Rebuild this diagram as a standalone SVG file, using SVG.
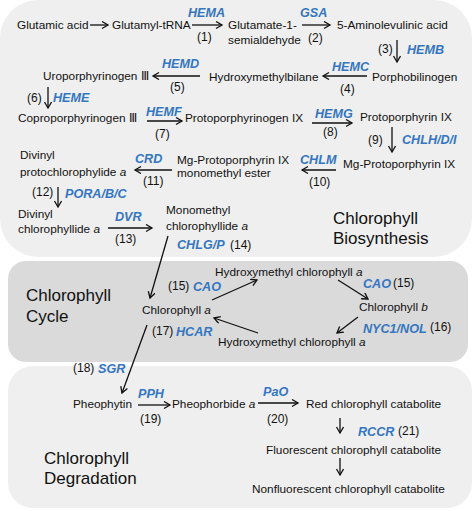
<svg xmlns="http://www.w3.org/2000/svg" width="473" height="511" viewBox="0 0 473 511">
<style>
.t{font-family:"Liberation Sans",Arial,sans-serif;font-size:11.8px;fill:#111}
.e{font-family:"Liberation Sans",Arial,sans-serif;font-size:12.6px;font-weight:bold;font-style:italic;fill:#3476c1}
.n{font-family:"Liberation Sans",Arial,sans-serif;font-size:12px;fill:#111}
.h{font-family:"Liberation Sans",Arial,sans-serif;font-size:17px;fill:#111}
.i{font-style:italic}
.a{stroke:#111;stroke-width:1.3;fill:none;marker-end:url(#ah)}
</style>
<defs>
<marker id="ah" markerUnits="userSpaceOnUse" markerWidth="10" markerHeight="10" refX="7" refY="4" orient="auto">
<path d="M1,0.5 L7,4 L1,7.5" fill="none" stroke="#111" stroke-width="1.3"/>
</marker>
</defs>
<rect width="473" height="511" fill="#ffffff"/>
<g id="panels">
<rect x="0" y="0" width="472" height="257" rx="38" fill="#efefef"/>
<rect x="8" y="366" width="464" height="142" rx="25" fill="#efefef"/>
<rect x="8" y="261" width="460" height="101" rx="18" fill="#dadada"/>
</g>
<g id="connectors">
<line class="a" x1="90" y1="25" x2="108" y2="25"/>
<line class="a" x1="192" y1="25" x2="222" y2="25"/>
<line class="a" x1="302" y1="25" x2="330" y2="25"/>
<line class="a" x1="397" y1="40" x2="397" y2="62"/>
<line class="a" x1="367" y1="76" x2="323" y2="76"/>
<line class="a" x1="200" y1="76" x2="153" y2="76"/>
<line class="a" x1="48" y1="87" x2="48" y2="108"/>
<line class="a" x1="147" y1="121" x2="182" y2="121"/>
<line class="a" x1="312" y1="123" x2="352" y2="123"/>
<line class="a" x1="392" y1="127" x2="392" y2="152"/>
<line class="a" x1="336" y1="170" x2="302" y2="170"/>
<line class="a" x1="172" y1="170" x2="135" y2="170"/>
<line class="a" x1="58" y1="187" x2="58" y2="207"/>
<line class="a" x1="108" y1="228" x2="152" y2="228"/>
<line class="a" x1="168" y1="236" x2="150" y2="298"/>
<line class="a" x1="212" y1="300" x2="257" y2="280"/>
<line class="a" x1="338" y1="280" x2="368" y2="299"/>
<line class="a" x1="358" y1="317" x2="337" y2="333"/>
<line class="a" x1="258" y1="333" x2="214" y2="318"/>
<line class="a" x1="147" y1="325" x2="122" y2="393"/>
<line class="a" x1="138" y1="405" x2="170" y2="405"/>
<line class="a" x1="258" y1="403" x2="298" y2="403"/>
<line class="a" x1="340" y1="418" x2="340" y2="433"/>
<line class="a" x1="340" y1="458" x2="340" y2="475"/>
</g>
<g id="n-glutamic"><text class="t" x="17" y="29">Glutamic acid</text></g>
<g id="n-glutamyl"><text class="t" x="112" y="29">Glutamyl-tRNA</text></g>
<g id="e-hema"><text class="e" x="188" y="17">HEMA</text><text class="n" x="197" y="41">(1)</text></g>
<g id="n-gsa-ald"><text class="t" x="228" y="29">Glutamate-1-</text><text class="t" x="228" y="44">semialdehyde</text></g>
<g id="e-gsa"><text class="e" x="300" y="17">GSA</text><text class="n" x="308" y="42">(2)</text></g>
<g id="n-ala"><text class="t" x="337" y="29">5-Aminolevulinic acid</text></g>
<g id="e-hemb"><text class="n" x="378" y="53">(3)</text><text class="e" x="407" y="54">HEMB</text></g>
<g id="n-pbg"><text class="t" x="372" y="81">Porphobilinogen</text></g>
<g id="e-hemc"><text class="e" x="332" y="71">HEMC</text><text class="n" x="340" y="93">(4)</text></g>
<g id="n-hmb"><text class="t" x="209" y="81">Hydroxymethylbilane</text></g>
<g id="e-hemd"><text class="e" x="162" y="68">HEMD</text><text class="n" x="170" y="91">(5)</text></g>
<g id="n-uro"><text class="t" x="43" y="80">Uroporphyrinogen Ⅲ</text></g>
<g id="e-heme"><text class="n" x="27" y="102">(6)</text><text class="e" x="53" y="102">HEME</text></g>
<g id="n-copro"><text class="t" x="18" y="122">Coproporphyrinogen Ⅲ</text></g>
<g id="e-hemf"><text class="e" x="146" y="116">HEMF</text><text class="n" x="155" y="138">(7)</text></g>
<g id="n-protogen"><text class="t" x="185" y="122">Protoporphyrinogen IX</text></g>
<g id="e-hemg"><text class="e" x="315" y="118">HEMG</text><text class="n" x="323" y="136">(8)</text></g>
<g id="n-proto"><text class="t" x="360" y="121">Protoporphyrin IX</text></g>
<g id="e-chlh"><text class="n" x="368" y="144">(9)</text><text class="e" x="402" y="144">CHLH/D/I</text></g>
<g id="n-mgproto"><text class="t" x="343" y="168">Mg-Protoporphyrin IX</text></g>
<g id="e-chlm"><text class="e" x="300" y="164">CHLM</text><text class="n" x="309" y="186">(10)</text></g>
<g id="n-mgme"><text class="t" x="177" y="164">Mg-Protoporphyrin IX</text><text class="t" x="177" y="177">monomethyl ester</text></g>
<g id="e-crd"><text class="e" x="135" y="163">CRD</text><text class="n" x="143" y="185">(11)</text></g>
<g id="n-dvpchlide"><text class="t" x="20" y="159">Divinyl</text><text class="t" x="20" y="176">protochlorophylide <tspan class="i">a</tspan></text></g>
<g id="e-por"><text class="n" x="32" y="196">(12)</text><text class="e" x="65" y="198">PORA/B/C</text></g>
<g id="n-dvchlide"><text class="t" x="18" y="218">Divinyl</text><text class="t" x="18" y="233">chlorophyllide <tspan class="i">a</tspan></text></g>
<g id="e-dvr"><text class="e" x="115" y="221">DVR</text><text class="n" x="115" y="243">(13)</text></g>
<g id="n-mvchlide"><text class="t" x="166" y="214">Monomethyl</text><text class="t" x="166" y="230">chlorophyllide <tspan class="i">a</tspan></text></g>
<g id="e-chlg"><text class="e" x="177" y="249">CHLG/P</text><text class="n" x="230" y="249">(14)</text></g>
<g id="l-bio"><text class="h" x="333" y="224">Chlorophyll</text><text class="h" x="333" y="244">Biosynthesis</text></g>
<g id="l-cycle"><text class="h" x="26" y="301">Chlorophyll</text><text class="h" x="26" y="322">Cycle</text></g>
<g id="n-chla"><text class="t" x="142" y="314">Chlorophyll <tspan class="i">a</tspan></text></g>
<g id="e-cao1"><text class="n" x="168" y="290">(15)</text><text class="e" x="193" y="291">CAO</text></g>
<g id="n-hmchla1"><text class="t" x="215" y="276">Hydroxymethyl chlorophyll <tspan class="i">a</tspan></text></g>
<g id="e-cao2"><text class="e" x="363" y="288">CAO</text><text class="n" x="393" y="287">(15)</text></g>
<g id="n-chlb"><text class="t" x="359" y="311">Chlorophyll <tspan class="i">b</tspan></text></g>
<g id="e-nyc"><text class="e" x="363" y="333">NYC1/NOL</text><text class="n" x="430" y="331">(16)</text></g>
<g id="n-hmchla2"><text class="t" x="218" y="346">Hydroxymethyl chlorophyll <tspan class="i">a</tspan></text></g>
<g id="e-hcar"><text class="n" x="152" y="335">(17)</text><text class="e" x="176" y="336">HCAR</text></g>
<g id="e-sgr"><text class="n" x="73" y="372">(18)</text><text class="e" x="98" y="373">SGR</text></g>
<g id="n-pheo"><text class="t" x="73" y="408">Pheophytin</text></g>
<g id="e-pph"><text class="e" x="138" y="398">PPH</text><text class="n" x="140" y="423">(19)</text></g>
<g id="n-pheide"><text class="t" x="172" y="408">Pheophorbide <tspan class="i">a</tspan></text></g>
<g id="e-pao"><text class="e" x="263" y="396">PaO</text><text class="n" x="267" y="423">(20)</text></g>
<g id="n-rcc"><text class="t" x="306" y="408">Red chlorophyll catabolite</text></g>
<g id="e-rccr"><text class="e" x="358" y="436">RCCR</text><text class="n" x="398" y="435">(21)</text></g>
<g id="n-fcc"><text class="t" x="266" y="454">Fluorescent chlorophyll catabolite</text></g>
<g id="n-ncc"><text class="t" x="252" y="493">Nonfluorescent chlorophyll catabolite</text></g>
<g id="l-deg"><text class="h" x="44" y="464">Chlorophyll</text><text class="h" x="44" y="484">Degradation</text></g>
</svg>
